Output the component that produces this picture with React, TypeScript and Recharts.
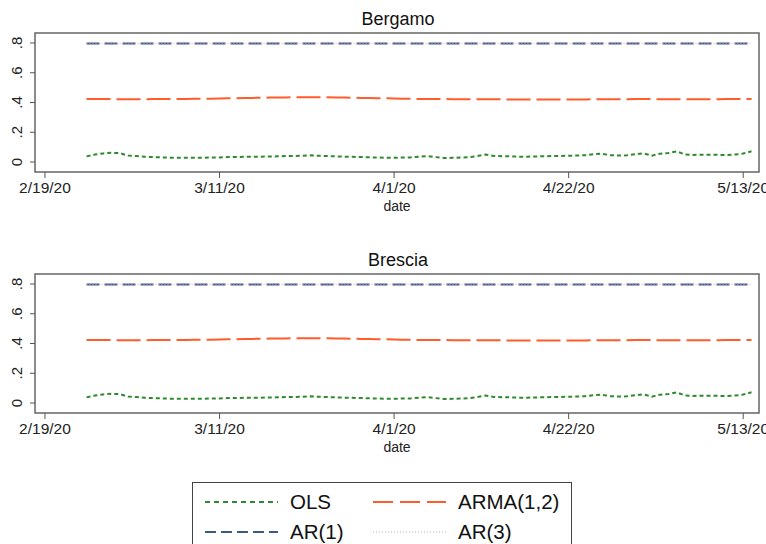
import React from 'react';
import { LineChart, Line, XAxis, YAxis, ReferenceArea } from 'recharts';

// day index: 0 = 2/19/20
const days = Array.from({ length: 81 }, (_, i) => i + 5);

const olsValues = [
  0.038, 0.050, 0.058, 0.062, 0.060, 0.043, 0.040, 0.036, 0.033, 0.031,
  0.029, 0.029, 0.029, 0.029, 0.029, 0.030, 0.031, 0.033, 0.034, 0.035,
  0.035, 0.036, 0.037, 0.038, 0.040, 0.041, 0.042, 0.045, 0.042, 0.040,
  0.038, 0.036, 0.035, 0.034, 0.032, 0.030, 0.029, 0.029, 0.030, 0.031,
  0.036, 0.040, 0.033, 0.027, 0.028, 0.030, 0.032, 0.040, 0.050, 0.041,
  0.039, 0.038, 0.036, 0.036, 0.037, 0.039, 0.040, 0.041, 0.042, 0.044,
  0.046, 0.052, 0.056, 0.046, 0.044, 0.045, 0.052, 0.058, 0.043, 0.056,
  0.060, 0.072, 0.050, 0.048, 0.049, 0.049, 0.048, 0.046, 0.050, 0.057,
  0.072,
];

const armaValues = [
  0.423, 0.423, 0.423, 0.423, 0.422, 0.422, 0.422, 0.422, 0.423, 0.423,
  0.423, 0.424, 0.424, 0.425, 0.425, 0.426, 0.427, 0.428, 0.429, 0.430,
  0.431, 0.432, 0.433, 0.434, 0.434, 0.435, 0.435, 0.436, 0.436, 0.435,
  0.434, 0.433, 0.432, 0.431, 0.430, 0.429, 0.428, 0.427, 0.426, 0.425,
  0.424, 0.424, 0.423, 0.423, 0.422, 0.422, 0.422, 0.422, 0.422, 0.422,
  0.421, 0.421, 0.421, 0.421, 0.421, 0.421, 0.421, 0.421, 0.421, 0.421,
  0.421, 0.422, 0.422, 0.422, 0.422, 0.422, 0.423, 0.423, 0.423, 0.422,
  0.422, 0.422, 0.422, 0.422, 0.422, 0.422, 0.422, 0.423, 0.423, 0.423,
  0.424,
];

const ar1Value = 0.797;
const ar3Value = 0.797;

const xTicks = [0, 21, 42, 63, 84];
const xTickLabels = ['2/19/20', '3/11/20', '4/1/20', '4/22/20', '5/13/20'];
const yTicks = [0, 0.2, 0.4, 0.6, 0.8];
const yTickLabels = ['0', '.2', '.4', '.6', '.8'];

const panels = ['Bergamo', 'Brescia'];

const data = days.map((d, i) => ({
  day: d,
  ols: olsValues[i],
  arma: armaValues[i],
  ar1: ar1Value,
  ar3: ar3Value,
}));

const FONT = '"Liberation Sans", Arial, sans-serif';
const C_OLS = '#2f8a2f';
const C_ARMA = '#ff5b2b';
const C_AR1 = '#3a5a86';
const C_AR3 = '#e89ab8';

const X_DOMAIN: [number, number] = [-1.2, 85.9];
const Y_DOMAIN: [number, number] = [-0.067, 0.867];

const YTick = (props: any) => {
  const { x, y, payload } = props;
  const idx = yTicks.indexOf(payload.value);
  return (
    <text
      x={x - 6}
      y={y}
      transform={`rotate(-90, ${x - 6}, ${y})`}
      textAnchor="middle"
      fontSize={15}
      fontFamily={FONT}
      fill="#222"
    >
      {idx >= 0 ? yTickLabels[idx] : ''}
    </text>
  );
};

const XTick = (props: any) => {
  const { x, y, payload } = props;
  const idx = xTicks.indexOf(payload.value);
  return (
    <text x={x} y={y + 13} textAnchor="middle" fontSize={15.5} fontFamily={FONT} fill="#222">
      {idx >= 0 ? xTickLabels[idx] : ''}
    </text>
  );
};

const Panel: React.FC<{ title: string; top: number }> = ({ title, top }) => (
  <div style={{ position: 'absolute', left: 0, top, width: 766, height: 220 }}>
    <div
      style={{
        position: 'absolute',
        left: 0,
        width: 796,
        top: 9,
        textAlign: 'center',
        fontFamily: FONT,
        fontSize: 18,
        color: '#111',
      }}
    >
      {title}
    </div>
    <LineChart width={766} height={220} data={data} margin={{ top: 33, right: 7, left: 0, bottom: 6 }}>
      <XAxis
        dataKey="day"
        type="number"
        domain={X_DOMAIN}
        ticks={xTicks}
        allowDataOverflow
        axisLine={false}
        tickLine={{ stroke: '#555', strokeWidth: 1 }}
        tickSize={6}
        tick={<XTick />}
        height={42}
        label={{ value: 'date', position: 'insideBottom', offset: 3, fontSize: 14, fontFamily: FONT, fill: '#222' }}
      />
      <YAxis
        type="number"
        domain={Y_DOMAIN}
        ticks={yTicks}
        allowDataOverflow
        axisLine={false}
        tickLine={{ stroke: '#555', strokeWidth: 1 }}
        tickSize={5}
        tick={<YTick />}
        width={35}
      />
      <ReferenceArea
        x1={X_DOMAIN[0]}
        x2={X_DOMAIN[1]}
        y1={Y_DOMAIN[0]}
        y2={Y_DOMAIN[1]}
        fill="none"
        stroke="#666"
        strokeWidth={1.5}
        ifOverflow="visible"
      />
      <Line type="linear" dataKey="ols" stroke={C_OLS} strokeWidth={2} strokeDasharray="4 3" dot={false} isAnimationActive={false} />
      <Line type="linear" dataKey="arma" stroke={C_ARMA} strokeWidth={2} strokeDasharray="24 6" dot={false} isAnimationActive={false} />
      <Line type="linear" dataKey="ar1" stroke={C_AR1} strokeWidth={2} strokeDasharray="13 5" dot={false} isAnimationActive={false} />
      <Line type="linear" dataKey="ar3" stroke={C_AR3} strokeWidth={1} strokeDasharray="1 2" dot={false} isAnimationActive={false} />
    </LineChart>
  </div>
);

const legendItems = [
  { name: 'OLS', color: C_OLS, dash: '5 4', width: 2 },
  { name: 'ARMA(1,2)', color: C_ARMA, dash: '20 7', width: 2 },
  { name: 'AR(1)', color: C_AR1, dash: '11 5', width: 2 },
  { name: 'AR(3)', color: C_AR3, dash: '1 2', width: 1 },
];

const LegendBox = () => (
  <div
    style={{
      position: 'absolute',
      left: 192,
      top: 482,
      width: 380,
      height: 70,
      border: '1.5px solid #444',
      boxSizing: 'border-box',
      fontFamily: FONT,
    }}
  >
    {legendItems.map((it, i) => {
      const col = i % 2;
      const row = Math.floor(i / 2);
      return (
        <div
          key={it.name}
          style={{
            position: 'absolute',
            left: 12 + col * 168,
            top: 7 + row * 30,
            height: 24,
            display: 'flex',
            alignItems: 'center',
          }}
        >
          <svg width={73} height={10}>
            <line x1={0} y1={5} x2={73} y2={5} stroke={it.color} strokeWidth={it.width} strokeDasharray={it.dash} />
          </svg>
          <span style={{ marginLeft: 12, fontSize: 20.5, color: '#111' }}>{it.name}</span>
        </div>
      );
    })}
  </div>
);

export default function App() {
  return (
    <div style={{ position: 'absolute', left: 0, top: 0, width: 766, height: 544, background: '#fff', overflow: 'hidden' }}>
      {panels.map((p, i) => (
        <Panel key={p} title={p} top={i * 241} />
      ))}
      <LegendBox />
    </div>
  );
}
